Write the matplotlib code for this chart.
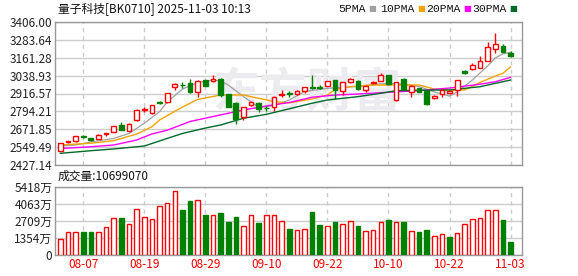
import matplotlib
matplotlib.use("Agg")
import matplotlib.pyplot as plt
import numpy as np

plt.rcParams['font.family'] = ['Noto Sans CJK SC', 'DejaVu Sans']

# 交易日
dates = [
    "08-04", "08-05", "08-06", "08-07", "08-08", "08-11", "08-12", "08-13", "08-14", "08-15",
    "08-18", "08-19", "08-20", "08-21", "08-22", "08-25", "08-26", "08-27", "08-28", "08-29",
    "09-01", "09-02", "09-03", "09-04", "09-05", "09-08", "09-09", "09-10", "09-11", "09-12",
    "09-15", "09-16", "09-17", "09-18", "09-19", "09-22", "09-23", "09-24", "09-25", "09-26",
    "09-29", "09-30", "10-09", "10-10", "10-13", "10-14", "10-15", "10-16", "10-17", "10-20",
    "10-21", "10-22", "10-23", "10-24", "10-27", "10-28", "10-29", "10-30", "10-31", "11-03",
]

opens = [2525, 2582, 2593, 2623, 2610, 2607, 2642, 2655, 2701, 2662,
         2733, 2806, 2781, 2858, 2856, 2961, 2977, 2986, 2929, 3009,
         3002, 3018, 2913, 2850, 2754, 2838, 2854, 2817, 2826, 2908,
         2920, 2911, 2936, 2958, 2958, 2970, 3009, 2934, 2993, 3002,
         2941, 2988, 3004, 3043, 2872, 3016, 2929, 2952, 2936, 2888,
         2911, 2920, 2941, 3073, 3082, 3093, 3141, 3219, 3242, 3196]
closes = [2575, 2590, 2623, 2620, 2598, 2630, 2646, 2692, 2667, 2708,
          2803, 2810, 2836, 2854, 2918, 2982, 2973, 2927, 3004, 2970,
          3018, 2906, 2826, 2740, 2822, 2860, 2810, 2814, 2895, 2912,
          2916, 2934, 2959, 2955, 2954, 2999, 2941, 2993, 3018, 2945,
          2968, 2992, 3043, 2982, 2993, 2945, 2970, 2929, 2843, 2902,
          2941, 2931, 3009, 3055, 3112, 3139, 3233, 3255, 3203, 3175]
highs = [2578, 2594, 2628, 2632, 2614, 2638, 2648, 2696, 2720, 2712,
         2808, 2826, 2840, 2866, 2922, 2986, 2998, 3015, 3008, 3012,
         3045, 3022, 2916, 2856, 2826, 2868, 2858, 2830, 2900, 2940,
         2936, 2938, 2962, 3043, 2975, 3003, 3012, 2996, 3022, 3006,
         2972, 3005, 3060, 3046, 2996, 3020, 2974, 2956, 2940, 2905,
         2944, 2935, 3012, 3078, 3127, 3173, 3271, 3333, 3255, 3210]
lows = [2520, 2576, 2585, 2610, 2594, 2604, 2628, 2650, 2664, 2658,
        2728, 2792, 2775, 2848, 2852, 2940, 2955, 2922, 2895, 2965,
        2998, 2895, 2822, 2706, 2735, 2828, 2790, 2800, 2800, 2895,
        2895, 2905, 2922, 2950, 2945, 2966, 2878, 2908, 2990, 2940,
        2925, 2980, 3000, 2978, 2868, 2940, 2895, 2925, 2838, 2880,
        2895, 2912, 2900, 3050, 3078, 3090, 3138, 3192, 3200, 3164]

# 成交量(万)
volumes = [1269, 1800, 1800, 1800, 1800, 1800, 2195, 2910, 2910, 2434,
           3624, 3037, 2831, 3862, 4100, 5051, 3568, 4258, 4338, 3172,
           3148, 3330, 2617, 3013, 2276, 3148, 2538, 3148, 3148, 2696,
           2062, 1956, 2036, 3410, 2379, 2276, 2617, 2434, 2696, 2300,
           1903, 1982, 2593, 2776, 2617, 2617, 1903, 1824, 1982, 1507,
           1639, 1427, 1718, 2434, 2831, 2910, 3545, 3545, 2752, 1070]
vol_up = "rrrggrrrgrrrrrrrggrgrgggrrgrrrgrrggrgrrgrrrgrgrggrrgrrrrrrgg"

# 均线(读图取样)
ma5_idx = [0, 2, 4, 7, 9, 11, 13, 14, 16, 18, 20, 21, 22, 24, 26, 28, 30, 32, 35, 39, 42, 44, 47, 49, 51, 52, 54, 56, 57, 58, 59]
ma5 = [2557, 2564, 2585, 2609, 2643, 2713, 2792, 2858, 2947, 2992, 3009, 3002, 2975, 2895, 2822, 2834, 2872, 2930, 2952, 2965, 2982, 2986, 2965, 2927, 2899, 2927, 3009, 3105, 3160, 3187, 3199]
ma10_idx = [0, 4, 7, 10, 12, 13, 16, 18, 21, 24, 26, 28, 30, 33, 35, 36, 38, 41, 45, 47, 49, 51, 53, 55, 57, 58, 59]
ma10 = [2564, 2576, 2594, 2639, 2689, 2735, 2824, 2876, 2906, 2906, 2884, 2862, 2852, 2879, 2906, 2944, 2963, 2975, 2975, 2975, 2947, 2937, 2941, 2992, 3036, 3055, 3098]
ma20_idx = [0, 4, 7, 10, 12, 14, 17, 21, 24, 27, 30, 33, 36, 39, 42, 47, 51, 55, 57, 59]
ma20 = [2540, 2552, 2564, 2598, 2640, 2665, 2725, 2770, 2804, 2831, 2855, 2891, 2906, 2913, 2922, 2936, 2954, 2980, 2997, 3027]
ma30_idx = [0, 4, 7, 11, 14, 16, 19, 21, 24, 27, 30, 33, 35, 39, 42, 44, 47, 51, 55, 57, 59]
ma30 = [2507, 2525, 2537, 2557, 2609, 2643, 2680, 2701, 2747, 2774, 2812, 2850, 2872, 2895, 2918, 2936, 2939, 2941, 2963, 2986, 3009]

price_ticks = [2427.14, 2549.49, 2671.85, 2794.21, 2916.57, 3038.93, 3161.28, 3283.64, 3406.00]
vol_ticks = [0, 1354, 2709, 4063, 5418]
vol_labels = ["0", "1354万", "2709万", "4063万", "5418万"]
tick_idx = [3, 11, 19, 27, 35, 43, 51, 59]

RED = "#ff0000"
GREEN = "#008000"
FS = 8.5

fig = plt.figure(figsize=(5.78, 2.76), dpi=100)
ax = fig.add_axes([55 / 578, 1 - 165 / 276, 467 / 578, 143 / 276])
axv = fig.add_axes([55 / 578, 1 - 255 / 276, 467 / 578, 68.3 / 276])

x = np.arange(len(dates))
o = np.array(opens)
c = np.array(closes)
up = c >= o

# 蜡烛图
colors = np.where(up, RED, GREEN)
ax.vlines(x, lows, highs, colors=colors, linewidth=1, zorder=3)
body_bottom = np.minimum(o, c)
body_h = np.maximum(np.abs(c - o), 1.5)
ax.bar(x, body_h, bottom=body_bottom, width=0.62,
       color=np.where(up, "white", GREEN), edgecolor=colors, linewidth=1, zorder=4)

ax.plot(ma5_idx, ma5, color="#a0a0a0", linewidth=0.9, zorder=2)
ax.plot(ma10_idx, ma10, color="#f5a300", linewidth=1, zorder=2)
ax.plot(ma20_idx, ma20, color="#ff00ff", linewidth=1, zorder=2)
ax.plot(ma30_idx, ma30, color="#006a2a", linewidth=1, zorder=2)

# 水印
ax.text(0.54, 0.5, "东方财富", transform=ax.transAxes, fontsize=34, color="#ebebf0",
        ha="center", va="center", zorder=1, fontweight="bold")

# 成交量
vcol = [RED if v == "r" else GREEN for v in vol_up]
vfill = ["white" if v == "r" else GREEN for v in vol_up]
axv.bar(x, volumes, width=0.6, color=vfill, edgecolor=vcol, linewidth=1, zorder=3)

for a in (ax, axv):
    a.set_xlim(-0.7, 60.5)
    for s in a.spines.values():
        s.set_color("#999999")
        s.set_linewidth(1)
    for t in tick_idx:
        a.axvline(t, color="#cccccc", linestyle=(0, (3, 3)), linewidth=1, zorder=0)
    a.tick_params(length=0, labelsize=FS, pad=2)

ax.set_ylim(price_ticks[0], price_ticks[-1])
ax.set_yticks(price_ticks)
ax.set_yticklabels([f"{v:.2f}" for v in price_ticks], color="#222222")
ax.set_xticks([])
ax.yaxis.grid(True, color="#cccccc", linewidth=1, zorder=0)
ax.set_axisbelow(True)

axv.set_ylim(0, vol_ticks[-1])
axv.set_yticks(vol_ticks)
axv.set_yticklabels(vol_labels, color="#222222")
axv.yaxis.grid(True, color="#cccccc", linewidth=1, zorder=0)
axv.set_axisbelow(True)
axv.set_xticks(tick_idx)
axv.set_xticklabels([dates[i] for i in tick_idx], color=RED)

fig.text(58 / 578, 1 - 9 / 276, "量子科技[BK0710] 2025-11-03 10:13", fontsize=FS,
         ha="left", va="center", color="#111111")
fig.text(58 / 578, 1 - 176 / 276, "成交量:10699070", fontsize=FS,
         ha="left", va="center", color="#111111")

# 图例
legend_items = [("5PMA", "#a0a0a0", 338), ("10PMA", "#f5a300", 380),
                ("20PMA", "#ff00ff", 426), ("30PMA", "#006a2a", 472)]
for label, col, px in legend_items:
    fig.text(px / 578, 1 - 9 / 276, label, fontsize=8.2, ha="left", va="center",
             color="#111111", family="Liberation Mono")
    sq_x = px + 6.8 * len(label) + 3
    fig.text(sq_x / 578, 1 - 9 / 276, "■", fontsize=6, ha="left", va="center",
             color=col, family="DejaVu Sans")

fig.savefig("out.png", dpi=100)
